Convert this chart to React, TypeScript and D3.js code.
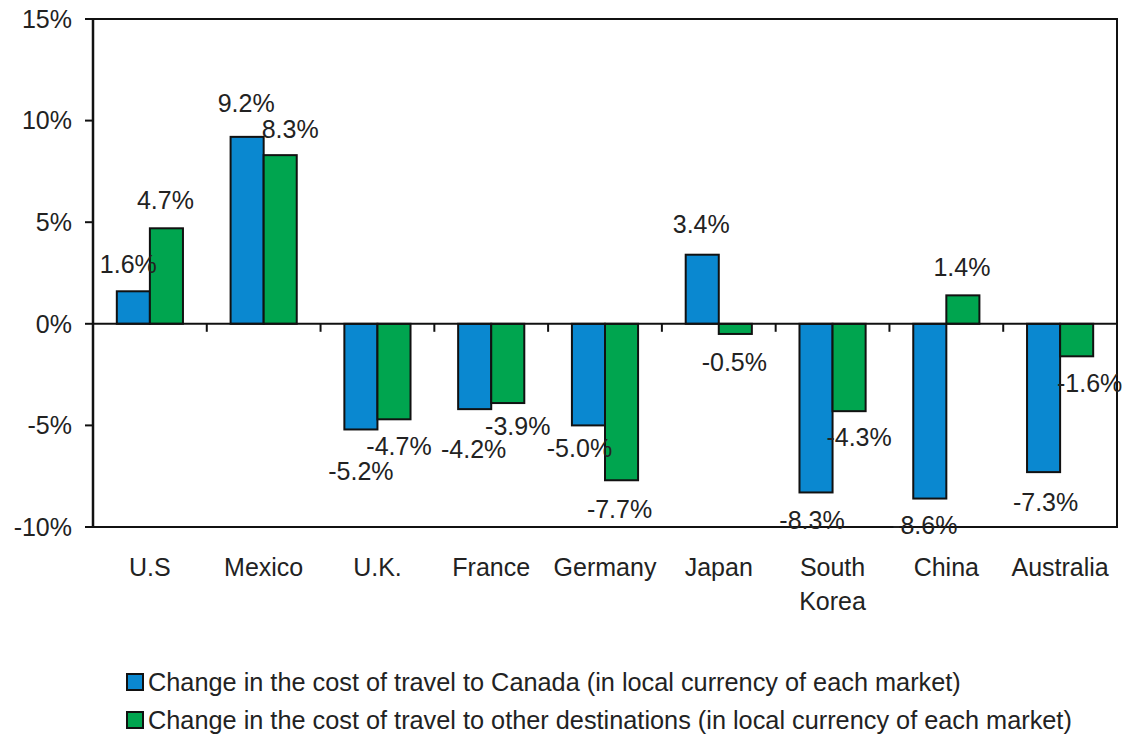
import React, { useEffect } from "react";
import * as d3 from "d3";

const WIDTH = 1130;
const HEIGHT = 736;
const PLOT = { LEFT: 93, RIGHT: 1117, TOP: 19, BOTTOM: 527 };
const FONT = "'Liberation Sans', Arial, sans-serif";

const categories = ["U.S", "Mexico", "U.K.", "France", "Germany", "Japan", "South Korea", "China", "Australia"];
const canadaCost = [1.6, 9.2, -5.2, -4.2, -5.0, 3.4, -8.3, -8.6, -7.3];
const otherCost = [4.7, 8.3, -4.7, -3.9, -7.7, -0.5, -4.3, 1.4, -1.6];
const seriesNames = [
  "Change in the cost of travel to Canada (in local currency of each market)",
  "Change in the cost of travel to other destinations (in local currency of each market)",
];
const yTicks = [-10, -5, 0, 5, 10, 15];

// small label nudges (dx, dy) so labels sit like the original chart
const canadaNudge = [[-5, 0], [-1, -7], [0, 15], [-1, 13], [-9, -4], [-1, -3], [-4, 1], [-5, 0], [2, 3]];
const otherNudge = [[-1, -1], [10, 1], [5, 0], [10, -4], [-2, 2], [-1, 1], [10, -1], [-1, -1], [13, 0]];

const COLORS = ["#0a88d0", "#00a54f"];
const TEXT = "#222";

const App: React.FC = () => {
  useEffect(() => {
    document.body.style.margin = "0";
  }, []);

  const x0 = d3.scaleBand<string>().domain(categories).range([PLOT.LEFT, PLOT.RIGHT]).padding(0);
  const x1 = d3
    .scaleBand<string>()
    .domain(["canada", "other"])
    .range([0, x0.bandwidth()])
    .paddingInner(0)
    .paddingOuter(0.72);
  const y = d3.scaleLinear().domain([-10, 15]).range([PLOT.BOTTOM, PLOT.TOP]);

  const series = [
    { key: "canada", values: canadaCost, color: COLORS[0], nudge: canadaNudge },
    { key: "other", values: otherCost, color: COLORS[1], nudge: otherNudge },
  ];

  const fmt = (v: number) => `${v.toFixed(1)}%`;

  return (
    <svg width={WIDTH} height={HEIGHT} style={{ display: "block", fontFamily: FONT }}>
      <rect width={WIDTH} height={HEIGHT} fill="#fff" />

      {/* bars */}
      {series.map((s) =>
        categories.map((c, i) => {
          const v = s.values[i];
          const bx = (x0(c) ?? 0) + (x1(s.key) ?? 0);
          const top = Math.min(y(v), y(0));
          const h = Math.abs(y(v) - y(0));
          return (
            <rect
              key={s.key + c}
              x={bx}
              y={top}
              width={x1.bandwidth()}
              height={h}
              fill={s.color}
              stroke="#111"
              strokeWidth={2}
            />
          );
        })
      )}

      {/* frame */}
      <rect
        x={PLOT.LEFT}
        y={PLOT.TOP}
        width={PLOT.RIGHT - PLOT.LEFT}
        height={PLOT.BOTTOM - PLOT.TOP}
        fill="none"
        stroke="#111"
        strokeWidth={2}
      />
      <line x1={PLOT.LEFT} x2={PLOT.LEFT} y1={PLOT.TOP} y2={PLOT.BOTTOM} stroke="#111" strokeWidth={2.5} />

      {/* zero line + category ticks */}
      <line x1={PLOT.LEFT} x2={PLOT.RIGHT} y1={y(0)} y2={y(0)} stroke="#111" strokeWidth={2} />
      {categories.slice(1).map((c) => (
        <line key={"t" + c} x1={x0(c)} x2={x0(c)} y1={y(0)} y2={y(0) + 8} stroke="#111" strokeWidth={2} />
      ))}
      <line x1={PLOT.RIGHT} x2={PLOT.RIGHT} y1={y(0)} y2={y(0) + 8} stroke="#111" strokeWidth={2} />

      {/* y axis */}
      {yTicks.map((t) => (
        <g key={"y" + t}>
          <line x1={PLOT.LEFT - 8} x2={PLOT.LEFT} y1={y(t)} y2={y(t)} stroke="#111" strokeWidth={2} />
          <text x={72} y={y(t)} dy="0.35em" textAnchor="end" fontSize={25} fill={TEXT}>
            {`${t}%`}
          </text>
        </g>
      ))}

      {/* data labels */}
      {series.map((s) =>
        categories.map((c, i) => {
          const v = s.values[i];
          const cx = (x0(c) ?? 0) + (x1(s.key) ?? 0) + x1.bandwidth() / 2;
          const ly = v >= 0 ? y(v) - 27 : y(v) + 27;
          return (
            <text
              key={"l" + s.key + c}
              x={cx + s.nudge[i][0]}
              y={ly + s.nudge[i][1]}
              dy="0.35em"
              textAnchor="middle"
              fontSize={25}
              fill={TEXT}
            >
              {fmt(v)}
            </text>
          );
        })
      )}

      {/* category labels */}
      {categories.map((c) => {
        const lines = c === "South Korea" ? ["South", "Korea"] : [c];
        const cx = (x0(c) ?? 0) + x0.bandwidth() / 2;
        return (
          <text key={"c" + c} x={cx} y={567} textAnchor="middle" fontSize={25} fill={TEXT}>
            {lines.map((l, j) => (
              <tspan key={l} x={cx} dy={j === 0 ? "0.35em" : 34}>
                {l}
              </tspan>
            ))}
          </text>
        );
      })}

      {/* legend */}
      {seriesNames.map((name, i) => (
        <g key={"lg" + i} transform={`translate(127, ${682 + i * 38})`}>
          <rect x={0} y={-8} width={16} height={16} fill={COLORS[i]} stroke="#111" strokeWidth={2} />
          <text x={21} y={0} dy="0.35em" fontSize={25.3} fill={TEXT}>
            {name}
          </text>
        </g>
      ))}
    </svg>
  );
};

export default App;
